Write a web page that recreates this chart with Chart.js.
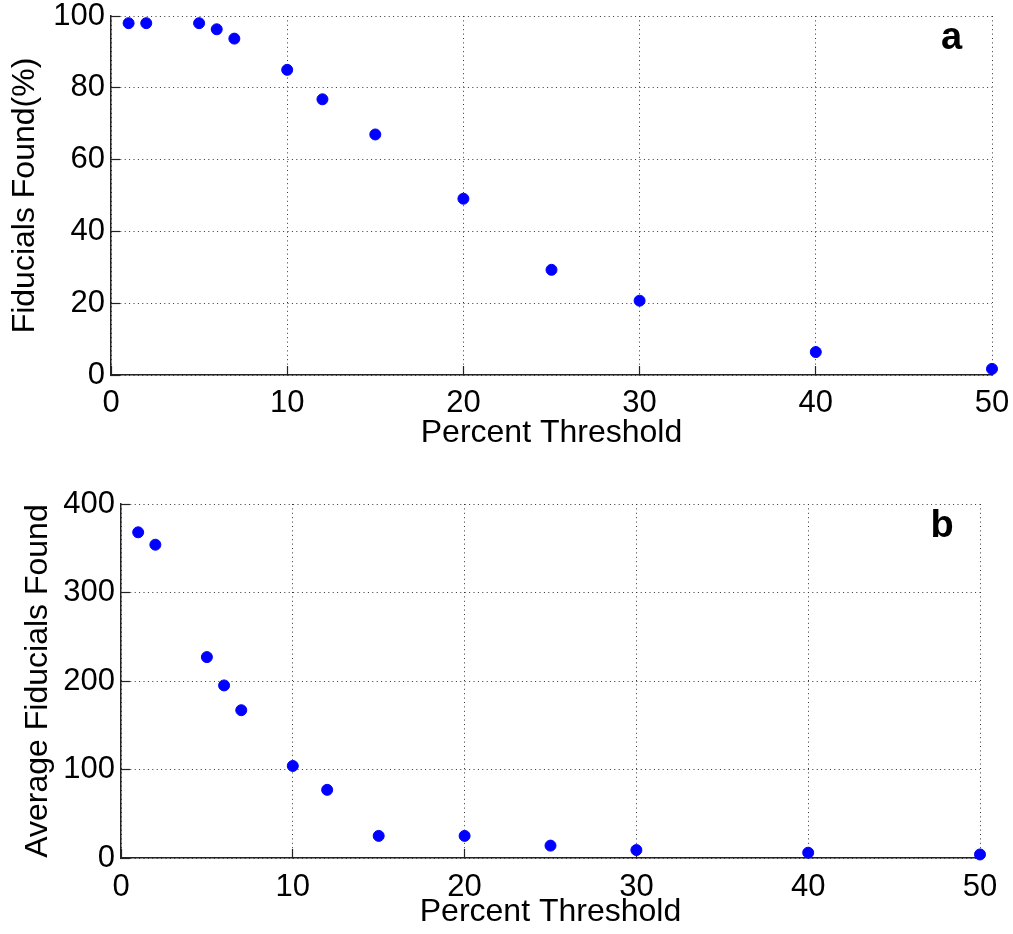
<!DOCTYPE html>
<html>
<head>
<meta charset="utf-8">
<script src="https://cdn.jsdelivr.net/npm/chart.js@4.4.1/dist/chart.umd.min.js"></script>
<style>
  html, body { margin: 0; padding: 0; background: #fff; }
  body { width: 1013px; height: 934px; position: relative; overflow: hidden; }
  .panel { position: absolute; left: 0; width: 1013px; }
</style>
</head>
<body>
<div class="panel" style="top:0;height:460px"><canvas id="chartA" width="1013" height="460"></canvas></div>
<div class="panel" style="top:470px;height:464px"><canvas id="chartB" width="1013" height="464"></canvas></div>
<script>
// data
const thresholds = [1, 2, 5, 6, 7, 10, 12, 15, 20, 25, 30, 40, 50];
const pctFound = [98, 98, 98, 96.3, 93.7, 85, 76.8, 67, 49.1, 29.3, 20.7, 6.4, 1.7];
const avgFound = [368, 354, 227, 195, 167, 104, 77, 25, 25, 14, 9, 6, 4];
const xTitle = 'Percent Threshold';

const FONT = "'Liberation Sans', Arial, sans-serif";
const TICK_IN = 9; // matlab style ticks point into the plot

// panel letter drawn in data coordinates
const panelLabel = {
    id: 'panelLabel',
    afterDraw(chart, args, opts) {
        const { ctx, scales: { x, y } } = chart;
        ctx.save();
        ctx.font = 'bold 38px ' + FONT;
        ctx.fillStyle = '#000';
        ctx.textAlign = 'center';
        ctx.textBaseline = 'middle';
        ctx.fillText(opts.text, x.getPixelForValue(opts.x), y.getPixelForValue(opts.y));
        ctx.restore();
    }
};

function createChart(elId, values, cfg) {
    const el = document.getElementById(elId);
    const grid = { color: '#333', lineWidth: 1, drawTicks: true, tickLength: -TICK_IN, tickColor: '#222', tickWidth: 1.2 };
    return new Chart(el.getContext('2d'), {
        type: 'scatter',
        data: {
            datasets: [{
                data: thresholds.map((t, i) => ({ x: t, y: values[i] })),
                backgroundColor: '#0000ff',
                borderColor: '#0000ff',
                pointRadius: 5.5,
                pointHoverRadius: 5.5,
                clip: false
            }]
        },
        options: {
            responsive: false,
            animation: false,
            events: [],
            layout: { padding: cfg.padding },
            plugins: {
                legend: { display: false },
                tooltip: { enabled: false },
                panelLabel: cfg.label
            },
            scales: {
                x: {
                    type: 'linear', min: 0, max: 50,
                    grid,
                    border: { color: '#222', width: 1.5, dash: [1, 3.4] },
                    ticks: { stepSize: 10, color: '#000', padding: cfg.xTickPad + TICK_IN, font: { family: FONT, size: 31 } },
                    title: { display: true, text: xTitle, color: '#000', padding: { top: 0, bottom: cfg.xTitlePad }, font: { family: FONT, size: 32 } },
                    afterFit(s) { s.height = cfg.xHeight; s.paddingLeft = 0; s.paddingRight = 0; }
                },
                y: {
                    min: 0, max: cfg.yMax,
                    grid,
                    border: { color: '#222', width: 1.5, dash: [1, 3.4] },
                    ticks: { stepSize: cfg.yStep, color: '#000', padding: 6 + TICK_IN, font: { family: FONT, size: 31 } },
                    title: { display: true, text: cfg.yTitle, color: '#000', padding: { top: cfg.yTitlePad, bottom: 0 }, font: { family: FONT, size: 32 } },
                    afterFit(s) { s.width = cfg.yWidth; s.paddingTop = 0; s.paddingBottom = 0; }
                }
            }
        },
        plugins: [panelLabel]
    });
}

// a: percentage of fiducials found
createChart('chartA', pctFound, {
    padding: { top: 16, right: 21, left: 0, bottom: 0 },
    xHeight: 85, xTickPad: 10, xTitlePad: 8,
    yWidth: 111, yTitlePad: 6,
    yMax: 100, yStep: 20,
    yTitle: 'Fiducials Found(%)',
    label: { text: 'a', x: 47.7, y: 93.6 }
});

// b: average number of fiducials found
createChart('chartB', avgFound, {
    padding: { top: 34, right: 33, left: 0, bottom: 0 },
    xHeight: 76, xTickPad: 11, xTitlePad: 3,
    yWidth: 121, yTitlePad: 19,
    yMax: 400, yStep: 100,
    yTitle: 'Average Fiducials Found',
    label: { text: 'b', x: 47.8, y: 375 }
});
</script>
</body>
</html>
